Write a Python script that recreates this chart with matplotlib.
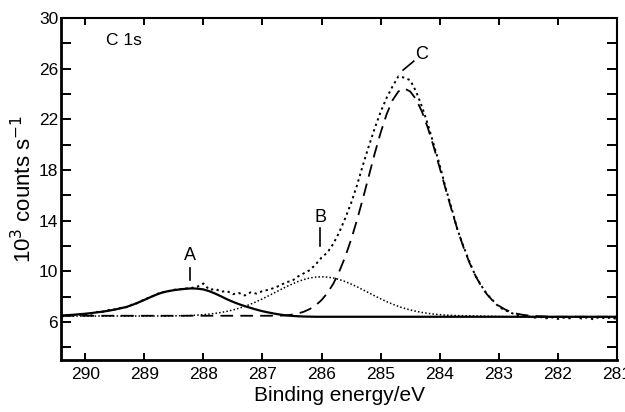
import matplotlib
matplotlib.use("Agg")
import matplotlib.pyplot as plt
import numpy as np

plt.rcParams['font.family'] = ['Liberation Sans', 'DejaVu Sans']

# binding energy grid, 290.4 -> 281.0 eV in 0.1 eV steps
energy = np.round(290.4 - 0.1 * np.arange(95), 1)

# measured spectrum (10^3 counts/s)
measured = [
    6.45, 6.50, 6.55, 6.58, 6.62, 6.66, 6.80, 6.82, 6.95, 7.00,
    7.12, 7.18, 7.40, 7.52, 7.80, 7.95, 8.20, 8.35, 8.42, 8.55,
    8.60, 8.65, 8.70, 8.80, 9.05, 8.55, 8.62, 8.40, 8.45, 8.20,
    8.30, 8.10, 8.35, 8.25, 8.45, 8.55, 8.70, 8.90, 9.15, 9.25,
    9.60, 9.85, 10.10, 10.55, 11.10, 11.50, 12.20, 13.10, 14.20, 15.40,
    16.80, 18.40, 19.90, 21.30, 22.60, 23.70, 24.60, 25.40, 25.30, 25.10,
    24.20, 23.00, 21.60, 20.00, 18.40, 16.60, 15.00, 13.30, 12.00, 10.80,
    9.70, 8.90, 8.20, 7.70, 7.20, 6.95, 6.75, 6.55, 6.50, 6.45,
    6.35, 6.40, 6.30, 6.38, 6.25, 6.35, 6.30, 6.42, 6.28, 6.36,
    6.22, 6.40, 6.30, 6.35, 6.25,
]

# fitted component A (solid)
peak_a = [
    6.52, 6.55, 6.58, 6.62, 6.66, 6.71, 6.77, 6.83, 6.90, 6.99,
    7.09, 7.20, 7.36, 7.55, 7.75, 7.96, 8.16, 8.33, 8.44, 8.52,
    8.58, 8.63, 8.66, 8.64, 8.58, 8.44, 8.25, 8.03, 7.80, 7.60,
    7.42, 7.26, 7.12, 6.98, 6.86, 6.76, 6.67, 6.59, 6.53, 6.49,
    6.46, 6.44, 6.43,
] + [6.42] * 52

# fitted component B (dotted)
peak_b = [6.48] * 18 + [
    6.48, 6.49, 6.50, 6.51, 6.53, 6.55, 6.59, 6.63, 6.69, 6.76,
    6.85, 6.96, 7.09, 7.24, 7.42, 7.62, 7.84, 8.07, 8.31, 8.55,
    8.79, 9.00, 9.20, 9.36, 9.48, 9.55, 9.58, 9.55, 9.48, 9.36,
    9.20, 9.00, 8.79, 8.55, 8.31, 8.07, 7.84, 7.62, 7.42, 7.24,
    7.09, 6.96, 6.85, 6.76, 6.69, 6.63, 6.59, 6.55, 6.53, 6.51,
    6.50, 6.49, 6.48, 6.47, 6.46, 6.45, 6.44, 6.43,
] + [6.42] * 19

# fitted component C (dashed)
peak_c = [6.50] * 37 + [
    6.51, 6.53, 6.59, 6.68, 6.82, 7.03, 7.32, 7.74, 8.30, 9.04,
    10.00, 11.15, 12.52, 14.06, 15.76, 17.54, 19.32, 20.96, 22.40, 23.51,
    24.21, 24.45, 24.21, 23.59, 22.60, 21.32, 19.81, 18.17, 16.50, 14.86,
    13.31, 11.93, 10.72, 9.70, 8.85, 8.19, 7.67, 7.29, 7.01, 6.81,
    6.67, 6.58, 6.52, 6.48, 6.46, 6.44,
] + [6.42] * 12

assert len(measured) == len(peak_a) == len(peak_b) == len(peak_c) == len(energy)

x_ticks = [290, 289, 288, 287, 286, 285, 284, 283, 282, 281]
y_ticks = list(range(4, 31, 2))
y_labels = ['' if (v - 6) % 4 else str(v) for v in y_ticks]

fig = plt.figure(figsize=(6.25, 4.12), dpi=100)
ax = fig.add_axes([0.0976, 0.126, 0.8896, 0.830])

ax.plot(energy, peak_c, color='black', lw=1.3, linestyle=(0, (7, 4)))
ax.plot(energy, peak_b, color='black', lw=1.1, linestyle=(0, (1, 1.4)))
ax.plot(energy, peak_a, color='black', lw=1.6, linestyle='-')
ax.plot(energy, measured, color='black', lw=1.4, linestyle=(0, (1.2, 1.8)))

ax.set_xlim(290.41, 281.0)
ax.set_ylim(3, 30)
ax.set_xticks(x_ticks)
ax.set_xticklabels([str(v) for v in x_ticks])
ax.set_yticks(y_ticks)
ax.set_yticklabels(y_labels)

ax.tick_params(axis='both', direction='in', width=1.4, labelsize=12.5)
ax.tick_params(axis='x', length=5, pad=5, top=True)
ax.tick_params(axis='y', length=7, pad=2, right=True)
for side in ['left', 'bottom']:
    ax.spines[side].set_linewidth(2.0)
for side in ['top', 'right']:
    ax.spines[side].set_linewidth(1.5)

ax.set_xlabel('Binding energy/eV', fontsize=15, labelpad=3)
ax.set_ylabel('10$^3$ counts s$^{-1}$', fontsize=16, labelpad=2)

# peak labels
ax.text(288.22, 10.6, 'A', fontsize=13, ha='center', va='bottom')
ax.plot([288.22, 288.22], [9.3, 10.3], color='black', lw=1.2)
ax.text(286.02, 13.6, 'B', fontsize=13, ha='center', va='bottom')
ax.plot([286.02, 286.02], [12.0, 13.4], color='black', lw=1.2)
ax.text(284.3, 27.1, 'C', fontsize=13, ha='center', va='center')
ax.plot([284.44, 284.62], [26.6, 25.9], color='black', lw=1.2)
ax.text(289.65, 28.2, 'C 1s', fontsize=12.5, ha='left', va='center')

fig.savefig('out.png', dpi=100)
